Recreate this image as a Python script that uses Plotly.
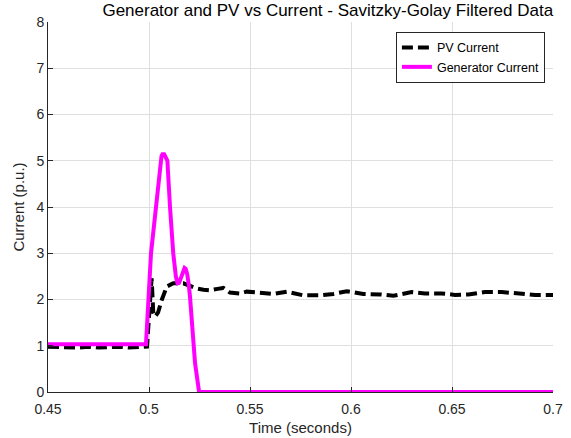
import plotly.graph_objects as go

# PV current (Savitzky-Golay filtered)
pv_t = [0.45, 0.455, 0.46, 0.465, 0.47, 0.475, 0.48, 0.485, 0.49, 0.495, 0.499,
        0.4995, 0.5005, 0.5013, 0.5021, 0.503, 0.5045, 0.5063, 0.5088, 0.512, 0.517,
        0.52, 0.5236, 0.527, 0.530, 0.534, 0.5368, 0.5401, 0.545, 0.5484, 0.5533,
        0.5615, 0.5682, 0.5764, 0.5847, 0.5913, 0.5979, 0.6061, 0.6144, 0.621, 0.63,
        0.6366, 0.6449, 0.6515, 0.6581, 0.6663, 0.6746, 0.6828, 0.6911, 0.7]
pv_i = [0.98, 0.97, 0.95, 0.96, 0.98, 0.96, 0.97, 0.98, 0.96, 0.97, 0.98,
        1.3, 2.0, 2.46, 1.72, 1.63, 1.72, 1.99, 2.28, 2.35, 2.35,
        2.3, 2.24, 2.21, 2.2, 2.23, 2.25, 2.15, 2.13, 2.17, 2.15,
        2.12, 2.17, 2.09, 2.09, 2.12, 2.18, 2.12, 2.11, 2.08, 2.16,
        2.13, 2.13, 2.10, 2.11, 2.16, 2.16, 2.13, 2.10, 2.10]

# Generator current
gen_t = [0.45, 0.4985, 0.501, 0.5035, 0.5056, 0.5062, 0.5067, 0.5071, 0.5075, 0.508,
         0.5091, 0.5104, 0.512, 0.5133, 0.5141, 0.5149, 0.516, 0.517, 0.5176, 0.5182,
         0.5189, 0.5196, 0.5203, 0.5228, 0.5248, 0.7]
gen_i = [1.03, 1.03, 3.0, 4.0, 5.0, 5.1, 5.14, 5.15, 5.14, 5.1,
         5.0, 4.0, 3.0, 2.5, 2.35, 2.36, 2.52, 2.64, 2.68, 2.66,
         2.55, 2.35, 2.06, 0.62, 0.0, 0.0]

x_ticks = [0.45, 0.5, 0.55, 0.6, 0.65, 0.7]
x_tick_labels = ["0.45", "0.5", "0.55", "0.6", "0.65", "0.7"]
y_ticks = [0, 1, 2, 3, 4, 5, 6, 7, 8]

FONT = "Liberation Sans, Arial"

fig = go.Figure()
fig.add_trace(go.Scatter(x=pv_t, y=pv_i, mode="lines", name="PV Current",
                         line=dict(color="black", width=4, dash="11px,5px")))
fig.add_trace(go.Scatter(x=gen_t, y=gen_i, mode="lines", name="Generator Current",
                         line=dict(color="#ff00ff", width=4)))

axis_common = dict(showgrid=True, gridcolor="#dfdfdf", gridwidth=1,
                   showline=True, linecolor="#262626", linewidth=1,
                   ticks="inside", ticklen=5, tickcolor="#262626",
                   tickfont=dict(family=FONT, size=14, color="#262626"),
                   zeroline=False, mirror=False, automargin=False)

fig.update_layout(
    width=571, height=438,
    margin=dict(l=48, r=18, t=22, b=46),
    paper_bgcolor="white", plot_bgcolor="white",
    title=dict(text="Generator and PV vs Current - Savitzky-Golay Filtered Data",
               x=0.574, xanchor="center", y=0.977, yanchor="middle",
               font=dict(family=FONT, size=17, color="black")),
    xaxis=dict(range=[0.45, 0.7], tickvals=x_ticks, ticktext=x_tick_labels,
               ticklabelstandoff=4,
               title=dict(text="Time (seconds)", standoff=6,
                          font=dict(family=FONT, size=15, color="#262626")),
               **axis_common),
    yaxis=dict(range=[0, 8], tickvals=y_ticks,
               title=dict(text="Current (p.u.)", standoff=8,
                          font=dict(family=FONT, size=15, color="#262626")),
               **axis_common),
    legend=dict(x=0.984, y=0.973, xanchor="right", yanchor="top",
                bgcolor="white", bordercolor="#262626", borderwidth=1,
                font=dict(family=FONT, size=12.5, color="black"),
                tracegroupgap=0, itemwidth=30),
    showlegend=True,
)

fig.write_html("out.html", config={"displayModeBar": False},
               post_script="document.body.style.margin='0px';")
